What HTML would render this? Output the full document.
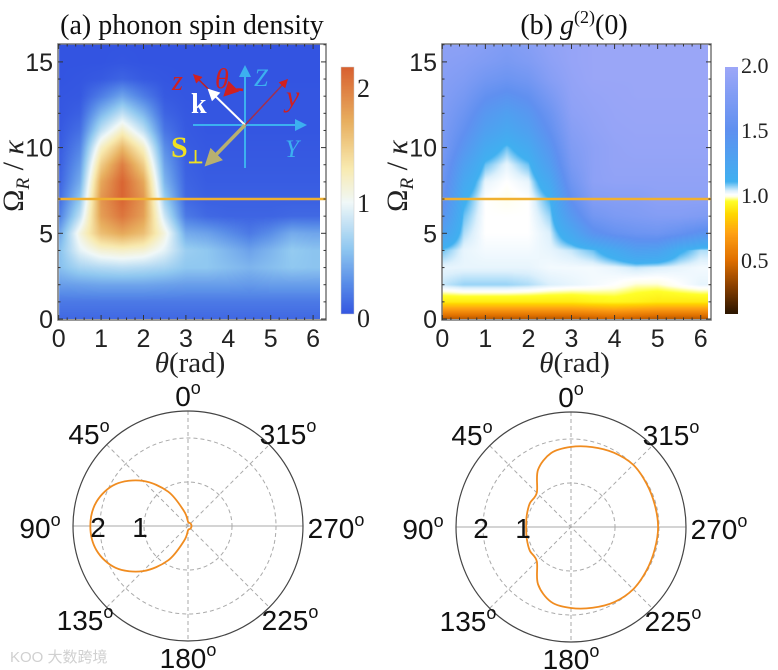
<!DOCTYPE html>
<html><head><meta charset="utf-8"><style>
body{margin:0;background:#fff;width:778px;height:670px;overflow:hidden;position:relative;font-family:"Liberation Sans",sans-serif}
canvas{position:absolute}
svg{position:absolute;left:0;top:0}
</style></head><body>
<canvas id="ca" width="262" height="275" style="left:58px;top:44px"></canvas>
<canvas id="cb" width="266" height="275" style="left:442px;top:44px"></canvas>
<canvas id="cba" width="13" height="247" style="left:341px;top:67px"></canvas>
<canvas id="cbb" width="13" height="247" style="left:725px;top:67px"></canvas>
<svg id="s" width="778" height="670"></svg>
<script>
// grid axes
const thetaGrid=[0,0.5,1,1.5,2,2.5,3,3.5,4,4.5,5,5.5,6,6.5];
const omegaGrid=[0,1,2,3,4,5,6,7,8,9,10,11,12,13,14,15,16];
// spin density rows (Omega = 0..16)
const spinA=[
[0.12,0.12,0.12,0.12,0.12,0.12,0.12,0.12,0.12,0.12,0.12,0.12,0.12,0.12],
[0.2,0.2,0.2,0.2,0.2,0.2,0.2,0.2,0.2,0.2,0.2,0.2,0.2,0.2],
[0.38,0.4,0.42,0.42,0.42,0.4,0.38,0.38,0.38,0.36,0.38,0.38,0.38,0.38],
[0.55,0.7,0.75,0.78,0.75,0.7,0.6,0.6,0.55,0.5,0.55,0.6,0.58,0.58],
[0.55,0.95,1.15,1.2,1.15,0.95,0.65,0.6,0.5,0.4,0.5,0.62,0.58,0.58],
[0.4,1.1,1.6,1.75,1.6,1.1,0.45,0.4,0.3,0.2,0.3,0.45,0.42,0.42],
[0.2,0.8,1.8,2.05,1.8,0.85,0.2,0.12,0.1,0.1,0.1,0.12,0.12,0.12],
[0.12,0.6,1.85,2.15,1.85,0.65,0.12,0.08,0.08,0.08,0.08,0.08,0.08,0.08],
[0.08,0.45,1.75,2.15,1.75,0.5,0.1,0.06,0.06,0.06,0.06,0.06,0.06,0.06],
[0.06,0.35,1.5,2.0,1.5,0.4,0.08,0.05,0.05,0.05,0.05,0.05,0.05,0.05],
[0.05,0.25,1.2,1.65,1.2,0.3,0.06,0.04,0.04,0.04,0.04,0.04,0.04,0.04],
[0.04,0.15,0.8,1.2,0.8,0.18,0.05,0.03,0.03,0.03,0.03,0.03,0.03,0.03],
[0.03,0.08,0.5,0.8,0.5,0.1,0.04,0.03,0.03,0.03,0.03,0.03,0.03,0.03],
[0.03,0.04,0.22,0.42,0.22,0.05,0.03,0.03,0.03,0.03,0.03,0.03,0.03,0.03],
[0.02,0.03,0.05,0.1,0.05,0.03,0.02,0.02,0.02,0.02,0.02,0.02,0.02,0.02],
[0.02,0.02,0.02,0.03,0.02,0.02,0.02,0.02,0.02,0.02,0.02,0.02,0.02,0.02],
[0.02,0.02,0.02,0.02,0.02,0.02,0.02,0.02,0.02,0.02,0.02,0.02,0.02,0.02]];
// g2 rows (Omega = 0..16)
const g2B=[
[0.4,0.4,0.4,0.4,0.4,0.4,0.4,0.42,0.45,0.42,0.4,0.4,0.4,0.4],
[0.9,0.9,0.9,0.9,0.9,0.9,0.9,0.92,0.93,0.92,0.9,0.9,0.9,0.9],
[1.04,1.06,1.06,1.06,1.05,1.03,1.02,1.01,1.0,0.98,0.98,1.0,1.02,1.02],
[1.02,1.02,1.02,1.02,1.02,1.01,1.01,1.01,1.02,1.04,1.03,1.02,1.01,1.01],
[1.08,1.02,1.01,1.01,1.01,1.02,1.04,1.08,1.18,1.3,1.28,1.12,1.05,1.05],
[1.3,1.05,1.0,1.0,1.0,1.03,1.2,1.45,1.55,1.6,1.62,1.55,1.45,1.4],
[1.45,1.08,1.0,1.0,1.0,1.06,1.38,1.65,1.72,1.75,1.78,1.78,1.75,1.72],
[1.55,1.12,1.0,0.99,1.0,1.1,1.52,1.78,1.8,1.8,1.85,1.85,1.85,1.85],
[1.6,1.2,1.02,1.0,1.02,1.2,1.62,1.85,1.88,1.88,1.88,1.88,1.88,1.88],
[1.65,1.3,1.08,1.02,1.08,1.32,1.7,1.85,1.9,1.9,1.9,1.9,1.9,1.9],
[1.7,1.42,1.18,1.08,1.18,1.42,1.75,1.85,1.9,1.92,1.92,1.92,1.92,1.92],
[1.72,1.52,1.3,1.2,1.3,1.52,1.8,1.88,1.92,1.93,1.93,1.93,1.93,1.93],
[1.75,1.6,1.4,1.3,1.4,1.6,1.85,1.9,1.93,1.94,1.94,1.94,1.94,1.94],
[1.78,1.68,1.52,1.45,1.52,1.7,1.88,1.92,1.94,1.95,1.95,1.95,1.95,1.95],
[1.8,1.75,1.65,1.6,1.65,1.8,1.9,1.95,1.95,1.95,1.95,1.95,1.95,1.95],
[1.83,1.8,1.75,1.7,1.75,1.85,1.92,1.95,1.95,1.95,1.95,1.95,1.95,1.95],
[1.85,1.85,1.8,1.75,1.8,1.88,1.92,1.95,1.95,1.95,1.95,1.95,1.95,1.95]];
const lineOmega=7;
const xTicks=[0,1,2,3,4,5,6];
const yTicks=[0,5,10,15];
const cbTicksA=[0,1,2];
const cbTicksB=["0.5","1.0","1.5","2.0"];
// polar data: angle (deg), radius
const polarAngles=[0,15,30,45,60,75,90,105,120,135,150,165,180,195,210,225,240,255,270,285,300,315,330,345,360];
const polarA=[0.1,0.35,0.9,1.45,1.9,2.15,2.22,2.15,1.9,1.45,0.9,0.35,0.1,0.08,0.08,0.08,0.08,0.08,0.08,0.08,0.08,0.08,0.08,0.08,0.1];
const polarB=[1.82,1.74,1.5,1.1,1.08,1.04,1.02,1.04,1.08,1.1,1.5,1.76,1.84,1.9,1.97,2.0,1.98,1.97,1.98,1.97,1.98,2.0,1.95,1.88,1.82];
const polarTicks=["0","45","90","135","180","225","270","315"];

const cmapA=[[0,[48,80,224]],[0.3,[90,142,232]],[0.6,[144,200,240]],[1.0,[240,248,248]],[1.3,[248,234,176]],[1.7,[232,176,96]],[2.18,[216,96,48]]];
const cmapB=[[0,[30,12,0]],[0.1,[48,24,0]],[0.3,[138,64,0]],[0.5,[224,112,0]],[0.7,[255,160,20]],[0.85,[255,215,0]],[0.95,[255,255,40]],[0.985,[255,255,230]],[1.0,[255,255,255]],[1.03,[220,240,252]],[1.1,[64,176,240]],[1.5,[96,144,240]],[2.0,[160,168,248]]];
function cm(m,v){if(v<=m[0][0])return m[0][1];for(let i=1;i<m.length;i++){if(v<=m[i][0]){const t=(v-m[i-1][0])/(m[i][0]-m[i-1][0]);return m[i][1].map((c,k)=>m[i-1][1][k]+(c-m[i-1][1][k])*t);}}return m[m.length-1][1];}
function interp(g,th,om){let i=Math.min(Math.floor(th/0.5),thetaGrid.length-2),j=Math.min(Math.floor(om),omegaGrid.length-2);
 const tx=(th-thetaGrid[i])/0.5,ty=om-omegaGrid[j];
 const a=g[j][i]*(1-tx)+g[j][i+1]*tx,b=g[j+1][i]*(1-tx)+g[j+1][i+1]*tx;return a*(1-ty)+b*ty;}
const PA={x0:58.7,ux:42.4,y0:319,uy:17.14,l:58,t:44,r:326,b:320,tmax:6.2};
const PB={x0:442.3,ux:43.07,y0:319,uy:17.14,l:442,t:44,r:711,b:320,tmax:6.2};
function heat(id,P,g,m,left){const c=document.getElementById(id),ctx=c.getContext('2d'),W=c.width,H=c.height,im=ctx.createImageData(W,H);
 for(let y=0;y<H;y++)for(let x=0;x<W;x++){const px=left+x+0.5,py=44+y+0.5;const th=(px-P.x0)/P.ux,om=(P.y0-py)/P.uy;const k=(y*W+x)*4;
  if(th>P.tmax||th<0||om<0){im.data[k]=255;im.data[k+1]=255;im.data[k+2]=255;im.data[k+3]=255;continue;}
  const col=cm(m,interp(g,th,Math.min(om,16)));im.data[k]=col[0];im.data[k+1]=col[1];im.data[k+2]=col[2];im.data[k+3]=255;}
 ctx.putImageData(im,0,0);}
heat('ca',PA,spinA,cmapA,58);heat('cb',PB,g2B,cmapB,442);
function bar(id,m,v0,v1){const c=document.getElementById(id),ctx=c.getContext('2d');for(let y=0;y<c.height;y++){const v=v1-(v1-v0)*(y+0.5)/c.height;const col=cm(m,v);ctx.fillStyle=`rgb(${col.map(Math.round)})`;ctx.fillRect(0,y,c.width,1);}}
bar('cba',cmapA,0.03,2.18);bar('cbb',cmapB,0.085,1.98);

const S=document.getElementById('s'),NS='http://www.w3.org/2000/svg';
function el(t,a,txt){const e=document.createElementNS(NS,t);for(const k in a)e.setAttribute(k,a[k]);if(txt!==undefined)e.textContent=txt;S.appendChild(e);return e;}
function panel(P,tag){
 let e=el('rect',{x:P.l,y:P.t,width:P.r-P.l,height:P.b-P.t,fill:'none',stroke:'#777','stroke-width':1.5});
 
 const ly=P.y0-lineOmega*P.uy;
 e=el('line',{x1:P.l,x2:P.r,y1:ly,y2:ly,stroke:'#f0b030','stroke-width':2.5});
 
 for(let v=0;v<=6.2;v+=0.2){const x=P.x0+v*P.ux,big=Math.abs(v-Math.round(v))<0.01;el('line',{x1:x,x2:x,y1:P.b,y2:P.b-(big?5:2.5),stroke:'#333','stroke-width':1});el('line',{x1:x,x2:x,y1:P.t,y2:P.t+(big?5:2.5),stroke:'#333','stroke-width':1});}
 for(let v=0;v<=16;v++){const y=P.y0-v*P.uy,big=v%5==0;el('line',{x1:P.l,x2:P.l+(big?5:2.5),y1:y,y2:y,stroke:'#333'});el('line',{x1:P.r,x2:P.r-(big?5:2.5),y1:y,y2:y,stroke:'#333'});}
 xTicks.forEach(v=>{e=el('text',{x:P.x0+v*P.ux,y:347,'font-size':25,'text-anchor':'middle',fill:'#222'},v);});
 yTicks.forEach(v=>{e=el('text',{x:P.l-5,y:P.y0-v*P.uy+9,'font-size':25,'text-anchor':'end',fill:'#222'},v);});
 const cx=(P.l+P.r)/2;
 e=el('text',{x:cx-2,y:372,'font-size':29,'text-anchor':'middle','font-family':'Liberation Serif',fill:'#222'});
 e.innerHTML='<tspan font-style="italic">θ</tspan>(rad)';
 e=el('text',{x:0,y:0,'font-size':30,'text-anchor':'middle','font-family':'Liberation Serif',fill:'#222',transform:`translate(${P.l-35},176) rotate(-90)`});
 e.innerHTML='Ω<tspan font-size="19" dy="6" font-style="italic">R</tspan><tspan dy="-6"> / </tspan><tspan font-style="italic">κ</tspan>';
}
panel(PA,'panel-a');panel(PB,'panel-b');
let e=el('text',{x:192,y:34,'font-size':28,'text-anchor':'middle','font-family':'Liberation Serif',fill:'#111'},'(a) phonon spin density');
e=el('text',{x:574,y:34,'font-size':28,'text-anchor':'middle','font-family':'Liberation Serif',fill:'#111'});e.innerHTML='(b) <tspan font-style="italic">g</tspan><tspan font-size="18" dy="-11">(2)</tspan><tspan dy="11">(0)</tspan>';
// colorbars
el('rect',{x:341,y:67,width:13,height:247,fill:'none',stroke:'#ccc','stroke-width':0.5});
cbTicksA.forEach(v=>{const y=318-v*115;e=el('text',{x:357,y:y+9,'font-size':26,'font-family':'Liberation Serif',fill:'#222'},v);});
cbTicksB.forEach(s=>{const y=325-parseFloat(s)*130;e=el('text',{x:741,y:y+8,'font-size':22,'font-family':'Liberation Serif',fill:'#222'},s);});
// inset axes diagram
el('defs',{}).innerHTML='<marker id="ac" markerWidth="6" markerHeight="6" refX="5" refY="3" orient="auto"><path d="M0,0L6,3L0,6z" fill="#3cb0f0"/></marker><marker id="arr" markerWidth="6" markerHeight="6" refX="5" refY="3" orient="auto"><path d="M0,0L6,3L0,6z" fill="#d02020"/></marker><marker id="aw" markerWidth="6" markerHeight="6" refX="5" refY="3" orient="auto"><path d="M0,0L6,3L0,6z" fill="#fff"/></marker><marker id="as" markerWidth="5" markerHeight="5" refX="4" refY="2.5" orient="auto"><path d="M0,0L5,2.5L0,5z" fill="#b8b070"/></marker>';
const g=el('g',{});
g.innerHTML='<line x1="245" y1="168" x2="245" y2="67" stroke="#3cb0f0" stroke-width="2" marker-end="url(#ac)"/>'+
'<line x1="193" y1="125" x2="305" y2="125" stroke="#3cb0f0" stroke-width="2" marker-end="url(#ac)"/>'+
'<line x1="245" y1="125" x2="194" y2="75" stroke="#c02020" stroke-width="1.5" marker-end="url(#arr)"/>'+
'<line x1="245" y1="125" x2="287" y2="80" stroke="#a03050" stroke-width="1.5" marker-end="url(#arr)"/>'+
'<line x1="245" y1="125" x2="209" y2="90" stroke="#fff" stroke-width="2" marker-end="url(#aw)"/>'+
'<line x1="245" y1="125" x2="207" y2="164" stroke="#b8b070" stroke-width="3.5" marker-end="url(#as)"/>'+
'<path d="M243,90 Q232,88 225,95" stroke="#d02020" stroke-width="2.5" fill="none" marker-end="url(#arr)"/>'+
'<text x="172" y="90" font-family="Liberation Serif" font-style="italic" font-size="28" fill="#d02020">z</text>'+
'<text x="215" y="88" font-family="Liberation Serif" font-style="italic" font-size="28" fill="#d02020">θ</text>'+
'<text x="254" y="86" font-family="Liberation Serif" font-style="italic" font-size="25" fill="#3cb0f0">Z</text>'+
'<text x="286" y="106" font-family="Liberation Serif" font-style="italic" font-size="30" fill="#d02020">y</text>'+
'<text x="191" y="113" font-family="Liberation Serif" font-weight="bold" font-size="28" fill="#fff">k</text>'+
'<text x="171" y="157" font-family="Liberation Serif" font-weight="bold" font-size="30" fill="#f0e020">S<tspan font-size="18" dy="6">⊥</tspan></text>'+
'<text x="285" y="157" font-family="Liberation Serif" font-style="italic" font-size="25" fill="#3cb0f0">Y</text>';
// polar plots
function polar(cx,cy,data,tag){const sc=44,R=115;
 const gg=el('g',{});
 let h='';[1,2].forEach(r=>h+=`<circle cx="${cx}" cy="${cy}" r="${r*sc}" fill="none" stroke="#aaa" stroke-dasharray="4,3"/>`);
 for(let a=0;a<180;a+=45){const t=a*Math.PI/180;h+=`<line x1="${cx-R*Math.sin(t)}" y1="${cy-R*Math.cos(t)}" x2="${cx+R*Math.sin(t)}" y2="${cy+R*Math.cos(t)}" stroke="#aaa" stroke-dasharray="${a==90?'none':'4,3'}"/>`;}
 h+=`<circle cx="${cx}" cy="${cy}" r="${R}" fill="none" stroke="#444" stroke-width="1.2"/>`;gg.innerHTML=h;
 const pts=polarAngles.map((a,i)=>{const t=a*Math.PI/180,r=data[i]*sc;return [cx-r*Math.sin(t),cy-r*Math.cos(t)];});
 let d=`M${pts[0][0]},${pts[0][1]}`;const n=pts.length-1;
 for(let i=0;i<n;i++){const p0=pts[(i-1+n)%n],p1=pts[i],p2=pts[i+1],p3=pts[(i+2)%n];
  d+=`C${p1[0]+(p2[0]-p0[0])/6},${p1[1]+(p2[1]-p0[1])/6} ${p2[0]-(p3[0]-p1[0])/6},${p2[1]-(p3[1]-p1[1])/6} ${p2[0]},${p2[1]}`;}
 let c=el('path',{d:d+'Z',fill:'none',stroke:'#f08c20','stroke-width':1.8});
 [1,2].forEach(r=>{c=el('text',{x:cx-r*sc+(r==1?-4:-2),y:cy+11,'font-size':28,'text-anchor':'middle',fill:'#111'},r);});
 const off=[[0,-130],[-99,-92],[-148,2],[-103,94],[0,132],[102,94],[148,2],[100,-92]];
 polarTicks.forEach((s,i)=>{c=el('text',{x:cx+off[i][0],y:cy+off[i][1]+10,'font-size':28,'text-anchor':'middle',fill:'#111'});c.innerHTML=s+'<tspan font-size="18" dy="-12">o</tspan>';});
}
polar(188,526,polarA,'polar-a');polar(571,527,polarB,'polar-b');
e=el('text',{x:10,y:662,'font-size':15,fill:'#d0d0d0','font-family':'Liberation Sans, Noto Sans CJK SC, sans-serif'},'KOO 大数跨境');
</script>
</body></html>
